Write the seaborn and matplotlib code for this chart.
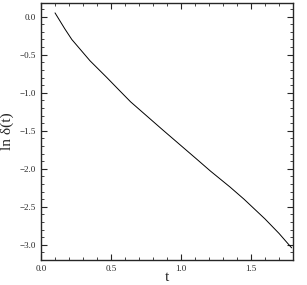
import numpy as np
import pandas as pd
import seaborn as sns
import matplotlib.pyplot as plt
from matplotlib.ticker import MultipleLocator

# values
t = [0.10, 0.17, 0.22, 0.35, 0.47, 0.56, 0.64, 0.87, 1.11, 1.21, 1.35, 1.45, 1.60, 1.70, 1.79]
ln_delta = [0.05, -0.16, -0.30, -0.58, -0.80, -0.97, -1.12, -1.49, -1.87, -2.03, -2.24, -2.40, -2.66, -2.85, -3.04]

df = pd.DataFrame({'t': t, 'ln_delta': ln_delta})

sns.set_style('ticks')
plt.rcParams['font.family'] = ['Liberation Serif', 'DejaVu Serif']

fig = plt.figure(figsize=(3.07, 2.85), dpi=100)
ax = fig.add_axes([0.1336, 0.0877, 0.8208, 0.9018])
sns.lineplot(x='t', y='ln_delta', data=df, color='black', linewidth=0.7, ax=ax)

ax.set_xlim(0, 1.8)
ax.set_ylim(-3.2, 0.18)
ax.xaxis.set_major_locator(MultipleLocator(0.5))
ax.xaxis.set_minor_locator(MultipleLocator(0.1))
ax.yaxis.set_major_locator(MultipleLocator(0.5))
ax.yaxis.set_minor_locator(MultipleLocator(0.1))
ax.tick_params(which='both', direction='in', top=True, right=True, labelsize=6.5)
ax.tick_params(which='major', length=4)
ax.tick_params(which='minor', length=2)
for s in ax.spines.values():
    s.set_linewidth(1.0)

ax.set_xlabel('t', fontsize=11, labelpad=-1)
ax.set_ylabel('ln δ(t)', fontsize=11, labelpad=4)

fig.savefig('out.png', dpi=100)
